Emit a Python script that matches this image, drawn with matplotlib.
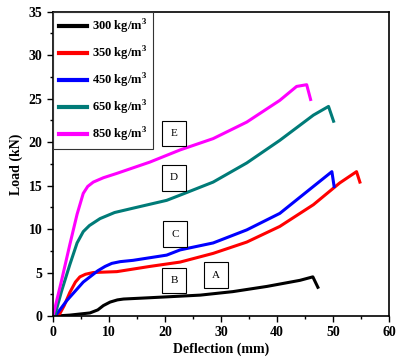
import matplotlib
matplotlib.use('Agg')
import matplotlib.pyplot as plt
from matplotlib.ticker import MultipleLocator

plt.rcParams['font.family'] = 'Liberation Serif'
plt.rcParams['font.weight'] = 'bold'
plt.rcParams['mathtext.fontset'] = 'custom'
plt.rcParams['mathtext.rm'] = 'Liberation Serif:bold'
plt.rcParams['mathtext.bf'] = 'Liberation Serif:bold'

# load-deflection curves (x in mm, y in kN)
x300 = [0.6, 3, 6.6, 8.0, 9.0, 10.2, 11.5, 12.6, 17.3, 26.3, 32.1, 38.2, 44.1, 46.4, 47.3]
y300 = [0.0, 0.1, 0.35, 0.7, 1.2, 1.6, 1.85, 1.95, 2.1, 2.4, 2.8, 3.4, 4.1, 4.5, 3.3]

x350 = [1.0, 2.0, 3.0, 4.0, 4.8, 5.8, 7.2, 11.4, 17.3, 22.7, 28.6, 34.6, 40.5, 46.5, 51.2, 54.2, 54.8]
y350 = [0.0, 1.2, 2.7, 3.9, 4.5, 4.8, 5.0, 5.1, 5.7, 6.2, 7.2, 8.5, 10.3, 12.8, 15.3, 16.6, 15.4]

x450 = [0.4, 2.5, 5.4, 8.0, 9.3, 10.5, 12.0, 14.3, 20.3, 22.7, 28.6, 34.6, 40.5, 46.5, 49.8, 50.2]
y450 = [0.0, 1.8, 3.9, 5.2, 5.7, 6.05, 6.25, 6.4, 7.0, 7.6, 8.4, 9.9, 11.8, 14.9, 16.6, 14.9]

x650 = [0.3, 1.5, 3.0, 4.3, 5.4, 6.5, 8.4, 11.0, 14.3, 20.3, 22.7, 28.6, 34.6, 40.5, 46.5, 49.2, 50.1]
y650 = [0.0, 2.8, 5.9, 8.4, 9.7, 10.4, 11.2, 11.9, 12.4, 13.3, 13.9, 15.4, 17.6, 20.2, 23.1, 24.1, 22.4]

x850 = [0.0, 1.5, 3.0, 4.3, 5.4, 6.2, 7.2, 9.0, 11.4, 17.3, 22.7, 28.6, 34.6, 40.5, 43.5, 45.3, 46.0]
y850 = [0.0, 4.0, 8.2, 11.7, 14.1, 14.9, 15.4, 15.9, 16.4, 17.7, 19.1, 20.4, 22.3, 24.8, 26.4, 26.6, 24.9]

labels = ['300 kg/m$^3$', '350 kg/m$^3$', '450 kg/m$^3$', '650 kg/m$^3$', '850 kg/m$^3$']
colors = ['black', 'red', 'blue', '#007b78', '#ff00ff']

box_letters = ['A', 'B', 'C', 'D', 'E']
box_x = [29.1, 21.6, 21.8, 21.6, 21.6]
box_y = [4.7, 4.1, 9.4, 15.9, 21.0]

fig = plt.figure(figsize=(4.0, 3.61), dpi=100)
ax = fig.add_axes([0.1325, 0.1247, 0.84, 0.843])

xs = [x300, x350, x450, x650, x850]
ys = [y300, y350, y450, y650, y850]
for x, y, c, lab in zip(xs, ys, colors, labels):
    ax.plot(x, y, color=c, lw=2.2, label=lab, solid_joinstyle='round')

for t, bx, by in zip(box_letters, box_x, box_y):
    ax.text(bx, by, t, fontsize=8, fontweight='normal', ha='center', va='center',
            bbox=dict(boxstyle='square,pad=0.75', fc='white', ec='black', lw=0.8))

ax.set_xlim(0, 60)
ax.set_ylim(0, 35)
ax.xaxis.set_major_locator(MultipleLocator(10))
ax.xaxis.set_minor_locator(MultipleLocator(5))
ax.yaxis.set_major_locator(MultipleLocator(5))
ax.yaxis.set_minor_locator(MultipleLocator(2.5))
ax.tick_params(which='major', direction='out', length=4, width=1, labelsize=10)
ax.tick_params(which='minor', direction='out', length=2.5, width=1)
for s in ax.spines.values():
    s.set_linewidth(1.2)
ax.set_xlabel('Deflection (mm)', fontsize=10, fontweight='bold', labelpad=2)
ax.set_ylabel('Load (kN)', fontsize=10, fontweight='bold', labelpad=4)

leg = ax.legend(loc='upper left', borderaxespad=0, fancybox=False, edgecolor='#333333',
                fontsize=9, handlelength=2.3, labelspacing=0.7, borderpad=0.45,
                handletextpad=0.4, framealpha=1)
leg.get_frame().set_linewidth(0.8)
for line in leg.get_lines():
    line.set_linewidth(3)

fig.savefig('out.png', dpi=100)
